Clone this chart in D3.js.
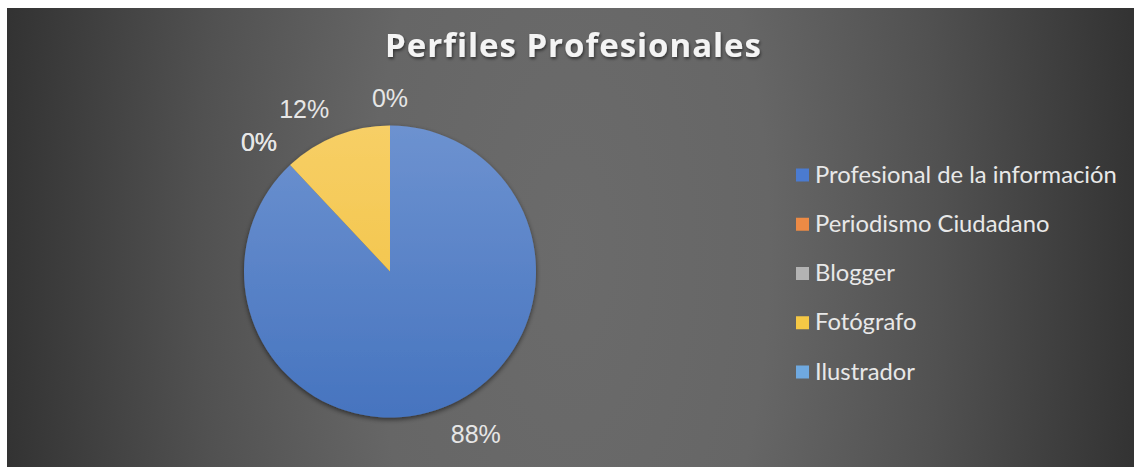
<!DOCTYPE html>
<html>
<head>
<meta charset="utf-8">
<script src="https://cdn.jsdelivr.net/npm/d3@7"></script>
<style>
  html, body { margin: 0; padding: 0; background: #ffffff; }
  svg { display: block; }
  text { font-variant-ligatures: none; }
</style>
</head>
<body>
<svg id="chart" width="1134" height="467"></svg>
<script>
// ---- data ----
const categories = ["Profesional de la información", "Periodismo Ciudadano", "Blogger", "Fotógrafo", "Ilustrador"];
const values = [88, 0, 0, 12, 0];
const valueLabels = ["88%", "0%", "0%", "12%", "0%"];
const titleText = "Perfiles Profesionales";

// ---- styles ----
const sliceTop = ["#6d92d0", "#f08a45", "#b4b4b4", "#f7cf66", "#79aee0"];
const sliceBottom = ["#4674bf", "#e0782f", "#9a9a9a", "#f0bf3a", "#5b9bd5"];
const legendColors = ["#4b7bd0", "#ec8a45", "#b3b3b3", "#f5c845", "#6fa9e0"];

const W = 1134, H = 467;
const svg = d3.select("#chart");
const defs = svg.append("defs");

// background gradient
const bg = defs.append("radialGradient")
  .attr("id", "bg").attr("gradientUnits", "userSpaceOnUse")
  .attr("cx", 570).attr("cy", 250).attr("r", 570)
  .attr("gradientTransform", "translate(0,250) scale(1,2.2) translate(0,-250)");
[[0, "#6b6b6b"], [0.35, "#666666"], [0.65, "#515151"], [1, "#333333"]]
  .forEach(([o, c]) => bg.append("stop").attr("offset", o).attr("stop-color", c));

svg.append("rect").attr("x", 7).attr("y", 8).attr("width", W - 7).attr("height", H - 8)
  .attr("fill", "url(#bg)");

// filters
const sh = defs.append("filter").attr("id", "pieShadow")
  .attr("x", "-20%").attr("y", "-20%").attr("width", "140%").attr("height", "140%");
sh.append("feDropShadow").attr("dx", 0).attr("dy", 2).attr("stdDeviation", 2.5)
  .attr("flood-color", "#000").attr("flood-opacity", 0.55);
const tsh = defs.append("filter").attr("id", "txtShadow")
  .attr("x", "-10%").attr("y", "-30%").attr("width", "120%").attr("height", "160%");
tsh.append("feDropShadow").attr("dx", 1).attr("dy", 2).attr("stdDeviation", 1.5)
  .attr("flood-color", "#000").attr("flood-opacity", 0.5);

// slice gradients
categories.forEach((c, i) => {
  const g = defs.append("linearGradient").attr("id", "sg" + i)
    .attr("gradientUnits", "userSpaceOnUse")
    .attr("x1", 0).attr("y1", -146).attr("x2", 0).attr("y2", 146);
  g.append("stop").attr("offset", 0).attr("stop-color", sliceTop[i]);
  g.append("stop").attr("offset", 1).attr("stop-color", sliceBottom[i]);
});

// title
const title = svg.append("text")
  .attr("x", 573).attr("y", 57)
  .attr("text-anchor", "middle")
  .attr("font-family", "'Open Sans', Lato, sans-serif")
  .attr("font-weight", "bold")
  .attr("font-size", 33)
  .attr("fill", "#f4f4f4")
  .attr("filter", "url(#txtShadow)")
  .text(titleText);
{
  const w = title.node().getComputedTextLength();
  const n = titleText.length;
  const ls = (376 - w) / (n - 1);
  title.attr("letter-spacing", ls).attr("x", 573 + ls / 2);
}

// pie
const cx = 390, cy = 271.5, R = 146;
const pie = d3.pie().sort(null).value(d => d);
const arcs = pie(values);
const arc = d3.arc().innerRadius(0).outerRadius(R);
const g = svg.append("g").attr("transform", `translate(${cx},${cy})`);
g.append("g").attr("filter", "url(#pieShadow)")
  .selectAll("path").data(arcs).join("path")
  .attr("d", arc)
  .attr("fill", (d, i) => `url(#sg${i})`);

// data labels (outside end)
const labelR = R + 19;
const lfs = 25;
const lg = g.append("g");
arcs.forEach((d, i) => {
  const a = (d.startAngle + d.endAngle) / 2;
  const s = Math.sin(a), c = Math.cos(a);
  const px = s * labelR, py = -c * labelR;
  const t = lg.append("text")
    .attr("font-family", "'Liberation Sans', Arial, sans-serif")
    .attr("font-size", lfs)
    .attr("fill", "#e6e6e6")
    .text(valueLabels[i]);
  const bb = t.node().getBBox();
  const w = bb.width;
  let x;
  if (Math.abs(s) < 0.12) x = px - w / 2;
  else if (s > 0) x = px;
  else x = px - w;
  const capH = lfs * 0.72;
  let y; // baseline
  if (c > 0) y = py; else y = py + capH;
  t.attr("x", x).attr("y", y);
});

// legend
const ly = d3.scalePoint().domain(categories).range([175, 372]);
const leg = svg.append("g");
categories.forEach((c, i) => {
  const y = ly(c);
  leg.append("rect").attr("x", 796).attr("y", y - 6.5).attr("width", 13).attr("height", 13)
    .attr("fill", legendColors[i]);
  leg.append("text").attr("class", "lt")
    .attr("x", 815).attr("y", y + 7.5)
    .attr("font-family", "Lato, 'Open Sans', sans-serif")
    .attr("font-size", 21)
    .attr("fill", "#e8e8e8")
    .text(c);
});
{
  const first = leg.select("text.lt").node();
  const w = first.getComputedTextLength();
  leg.selectAll("text.lt").attr("font-size", 21 * 302 / w);
}
</script>
</body>
</html>
